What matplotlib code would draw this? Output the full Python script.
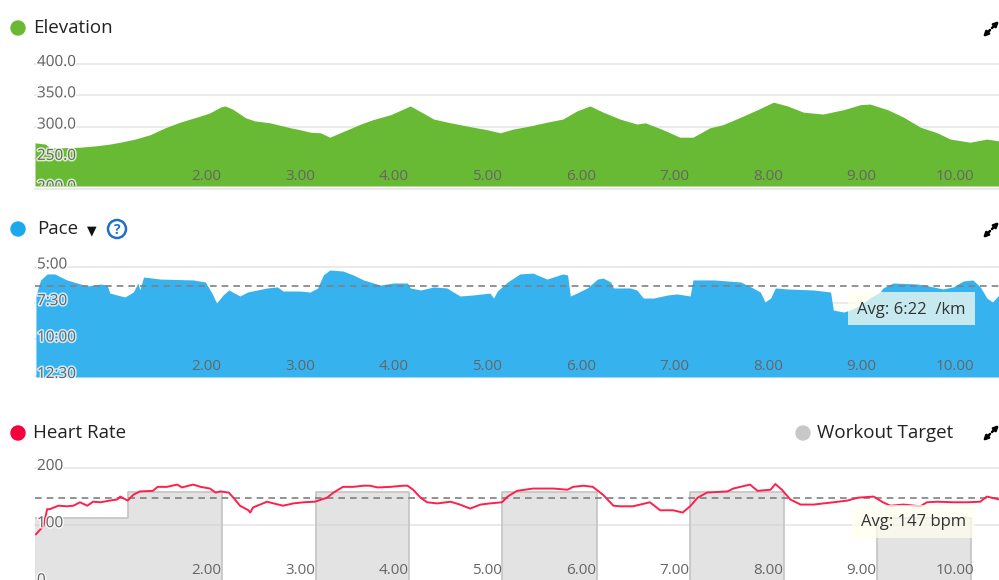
import matplotlib
matplotlib.use('Agg')
import matplotlib.pyplot as plt
from matplotlib import patheffects, transforms
from matplotlib.patches import Circle, Rectangle

plt.rcParams['font.family'] = ['Open Sans', 'DejaVu Sans']

# distance (km) and elevation (m)
elev_km = [0.17, 0.28, 0.33, 0.44, 0.65, 0.81, 0.97, 1.08, 1.24, 1.40, 1.56, 1.72, 1.94, 2.04,
           2.15, 2.20, 2.28, 2.42, 2.52, 2.68, 2.90, 3.00, 3.11, 3.22, 3.32, 3.43, 3.65, 3.78,
           3.97, 4.18, 4.43, 4.61, 4.85, 5.00, 5.14, 5.28, 5.46, 5.64, 5.81, 5.96, 6.10, 6.24,
           6.42, 6.60, 6.69, 6.88, 7.06, 7.20, 7.38, 7.52, 7.71, 7.89, 8.06, 8.21, 8.38, 8.59,
           8.81, 8.99, 9.09, 9.28, 9.45, 9.63, 9.81, 9.95, 10.16, 10.34, 10.47]
elev_m = [274, 272, 266, 266, 267, 269, 272, 275, 280, 287, 298, 307, 317, 322,
          331, 333, 328, 314, 309, 306, 298, 295, 291, 290, 283, 290, 304, 311,
          319, 333, 312, 306, 299, 295, 290, 296, 301, 307, 312, 325, 333, 323,
          312, 304, 306, 295, 283, 283, 298, 303, 315, 327, 339, 333, 323, 320,
          327, 335, 336, 327, 315, 299, 290, 280, 275, 280, 277]

# pace in minutes per km
pace_km = [0.18, 0.23, 0.30, 0.38, 0.51, 0.73, 0.87, 0.94, 0.97, 1.13, 1.22, 1.27, 1.29, 1.33,
           1.51, 1.86, 1.99, 2.06, 2.11, 2.18, 2.24, 2.36, 2.44, 2.65, 2.76, 2.82, 3.00, 3.11,
           3.19, 3.25, 3.32, 3.46, 3.57, 3.68, 3.86, 4.00, 4.15, 4.18, 4.29, 4.43, 4.57, 4.71,
           4.85, 5.03, 5.07, 5.11, 5.22, 5.35, 5.49, 5.64, 5.81, 5.86, 5.89, 5.96, 6.07, 6.18,
           6.24, 6.32, 6.35, 6.53, 6.60, 6.67, 6.78, 6.93, 7.03, 7.17, 7.20, 7.42, 7.71, 7.84,
           7.92, 7.97, 8.03, 8.08, 8.21, 8.49, 8.67, 8.70, 8.81, 8.88, 8.99, 9.09, 9.20, 9.23,
           9.34, 9.60, 9.77, 9.87, 9.98, 10.09, 10.19, 10.27, 10.34, 10.40, 10.47]
pace_min = [6.95, 5.92, 5.51, 5.51, 5.92, 6.34, 6.20, 6.27, 6.82, 7.09, 6.75, 6.13, 6.61, 5.72,
            5.86, 5.92, 6.06, 6.82, 7.50, 6.95, 6.61, 7.02, 6.75, 6.47, 6.40, 6.68, 6.68, 6.75,
            6.47, 5.58, 5.24, 5.31, 5.58, 5.92, 6.27, 6.13, 6.13, 6.47, 6.61, 6.40, 6.47, 7.02,
            6.95, 6.82, 7.16, 6.68, 6.06, 5.51, 5.45, 5.86, 5.51, 5.58, 7.02, 6.82, 6.47, 5.86,
            5.79, 6.06, 6.47, 6.47, 6.61, 7.16, 7.16, 6.95, 6.88, 7.02, 5.92, 5.92, 6.06, 6.47,
            6.75, 7.43, 7.16, 6.47, 6.54, 6.61, 6.75, 7.98, 8.12, 7.98, 7.64, 7.16, 6.75, 6.47,
            6.13, 6.20, 6.40, 6.54, 6.40, 5.99, 5.92, 6.40, 7.16, 7.43, 6.95]
pace_avg = 6 + 22 / 60

# heart rate (bpm)
hr_km = [0.18, 0.23, 0.26, 0.30, 0.33, 0.42, 0.51, 0.58, 0.65, 0.73, 0.79, 0.87, 0.97, 1.05,
         1.08, 1.16, 1.22, 1.29, 1.43, 1.48, 1.58, 1.69, 1.74, 1.86, 1.94, 2.04, 2.10, 2.15,
         2.24, 2.29, 2.36, 2.45, 2.47, 2.50, 2.65, 2.72, 2.82, 2.93, 3.04, 3.16, 3.29, 3.36,
         3.46, 3.57, 3.68, 3.75, 3.83, 3.97, 4.10, 4.15, 4.21, 4.29, 4.36, 4.47, 4.61, 4.71,
         4.82, 4.93, 5.03, 5.16, 5.22, 5.32, 5.49, 5.71, 5.86, 5.92, 6.03, 6.13, 6.24, 6.35,
         6.42, 6.56, 6.74, 6.85, 6.99, 7.09, 7.17, 7.25, 7.35, 7.57, 7.63, 7.81, 7.89, 8.03,
         8.08, 8.15, 8.24, 8.35, 8.49, 8.70, 8.85, 8.96, 9.13, 9.23, 9.31, 9.45, 9.63, 9.70,
         9.81, 9.98, 10.13, 10.27, 10.34, 10.47]
hr_bpm = [84, 93, 98, 128, 128, 134, 133, 134, 140, 134, 141, 140, 143, 145,
          150, 143, 153, 159, 160, 167, 167, 171, 166, 171, 167, 164, 157, 159,
          157, 148, 134, 126, 122, 131, 141, 138, 134, 138, 140, 141, 148, 157,
          167, 167, 169, 169, 166, 167, 169, 169, 162, 148, 140, 138, 141, 136,
          129, 136, 138, 140, 150, 160, 164, 164, 162, 167, 169, 167, 153, 134,
          133, 133, 140, 126, 126, 122, 133, 148, 157, 159, 164, 171, 160, 162,
          172, 162, 145, 136, 136, 140, 143, 148, 150, 140, 134, 136, 133, 140,
          141, 140, 140, 141, 150, 145]
hr_avg = 147

# workout target steps
target_edges = [0.17, 1.16, 2.17, 3.17, 4.17, 5.16, 6.17, 7.17, 8.17, 9.17, 10.17, 10.47]
target_bpm = [112, 158, 0, 158, 0, 158, 0, 158, 0, 112, 0]

km_ticks = [2, 3, 4, 5, 6, 7, 8, 9, 10]
elev_ticks = [200, 250, 300, 350, 400]
pace_ticks = [5, 7.5, 10, 12.5]
pace_labels = ['5:00', '7:30', '10:00', '12:30']
hr_ticks = [0, 100, 200]

green = '#68b933'
blue = '#36b3ee'
red = '#ff1f4b'
grid_c = '#e6e6e6'
label_c = '#666666'

fig = plt.figure(figsize=(9.99, 5.8), dpi=100)


def panel(top, bottom):
    ax = fig.add_axes([35 / 999, (580 - bottom) / 580, 964 / 999, (bottom - top) / 580])
    for s in ax.spines.values():
        s.set_visible(False)
    ax.set_xticks([])
    ax.set_yticks([])
    ax.set_xlim(0.17, 10.47)
    return ax


def labels(ax, yt, ylab, xoff=10):
    halo = [patheffects.withStroke(linewidth=2.2, foreground='white', alpha=0.75)]
    lo = min(ax.get_ylim())
    for v in yt:
        ax.axhline(v, color=grid_c, lw=1.2, zorder=1, clip_on=False)
    tr = transforms.offset_copy(ax.get_yaxis_transform(), fig=fig, x=2, y=1.5, units='dots')
    for v, s in zip(yt, ylab):
        ax.text(0, v, s, transform=tr, ha='left', va='center', fontsize=11,
                color=label_c, zorder=6, path_effects=halo, clip_on=(v < lo))
    trx = transforms.offset_copy(ax.get_xaxis_transform(), fig=fig, y=xoff, units='dots')
    for k in km_ticks:
        ax.text(k, 0, '%.2f' % k, transform=trx, ha='center', va='center',
                fontsize=11, color=label_c, zorder=6)


# Elevation
ax1 = panel(64, 186)
ax1.set_ylim(205, 400)
ax1.fill_between(elev_km, elev_m, 205, color=green, lw=0, zorder=2)
labels(ax1, elev_ticks, ['%.1f' % v for v in elev_ticks])

# Pace
ax2 = panel(266.5, 377)
ax2.set_ylim(12.57, 5)
ax2.fill_between(pace_km, pace_min, 12.57, color=blue, lw=0, zorder=2)
ax2.axhline(pace_avg, color='#808080', lw=1.2, ls=(0, (4, 3)), zorder=4)
labels(ax2, pace_ticks, pace_labels)

# Heart rate
ax3 = panel(468, 580)
ax3.set_ylim(4, 200)
ax3.fill_between(target_edges, target_bpm + [target_bpm[-1]], 0, step='post',
                 color='#c9c9c9', alpha=0.5, lw=0, zorder=2)
ax3.step(target_edges, target_bpm + [target_bpm[-1]], where='post',
         color='#c4c4c4', lw=1.2, zorder=2)
ax3.axhline(hr_avg, color='#808080', lw=1.2, ls=(0, (4, 3)), zorder=4)
ax3.plot(hr_km, hr_bpm, color=red, lw=1.4, zorder=5)
labels(ax3, hr_ticks, [str(v) for v in hr_ticks])

# headers, icons and average boxes in pixel space
ov = fig.add_axes([0, 0, 1, 1], zorder=10)
ov.set_xlim(0, 999)
ov.set_ylim(580, 0)
ov.axis('off')
ov.patch.set_alpha(0)

title_kw = dict(fontsize=13.5, va='center', color='#222222')
ov.add_patch(Circle((18, 28), 7, color=green))
ov.text(33, 28, 'Elevation', **title_kw)
ov.add_patch(Circle((18, 229), 7, color='#1ea8ec'))
ov.text(37, 229, 'Pace', **title_kw)
ov.text(92, 231, '▼', ha='center', va='center', fontsize=9, color='#111111')
ov.add_patch(Circle((117, 229), 9, fill=False, ec='#1f6fd0', lw=1.8))
ov.text(117, 230, '?', ha='center', va='center', fontsize=10, weight='bold', color='#1f6fd0')
ov.add_patch(Circle((18, 433), 7, color='#f5003d'))
ov.text(33, 433, 'Heart Rate', **title_kw)
ov.add_patch(Circle((803, 433), 7, color='#c8c8c8'))
ov.text(817, 433, 'Workout Target', **title_kw)

# expand icons
for cy in [29, 230, 433]:
    for x0, y0, x1, y1 in [(990, cy + 1, 983, cy + 8), (992, cy - 1, 999, cy - 8)]:
        ov.annotate('', xy=(x1, y1), xytext=(x0, y0), annotation_clip=False,
                    arrowprops=dict(arrowstyle='-|>', color='black', lw=1.8, mutation_scale=7,
                                    shrinkA=0, shrinkB=0))

for (x0, y0, w, h), txt in [((848, 292, 127, 33), 'Avg: 6:22  /km'),
                            ((852, 505, 123, 33), 'Avg: 147 bpm')]:
    ov.add_patch(Rectangle((x0, y0), w, h, fc='#fffff0', ec='none', alpha=0.72))
    ov.text(x0 + w / 2, y0 + h / 2 + 1, txt, ha='center', va='center', fontsize=12,
            color='#333333')

fig.savefig('out.png', dpi=100)
